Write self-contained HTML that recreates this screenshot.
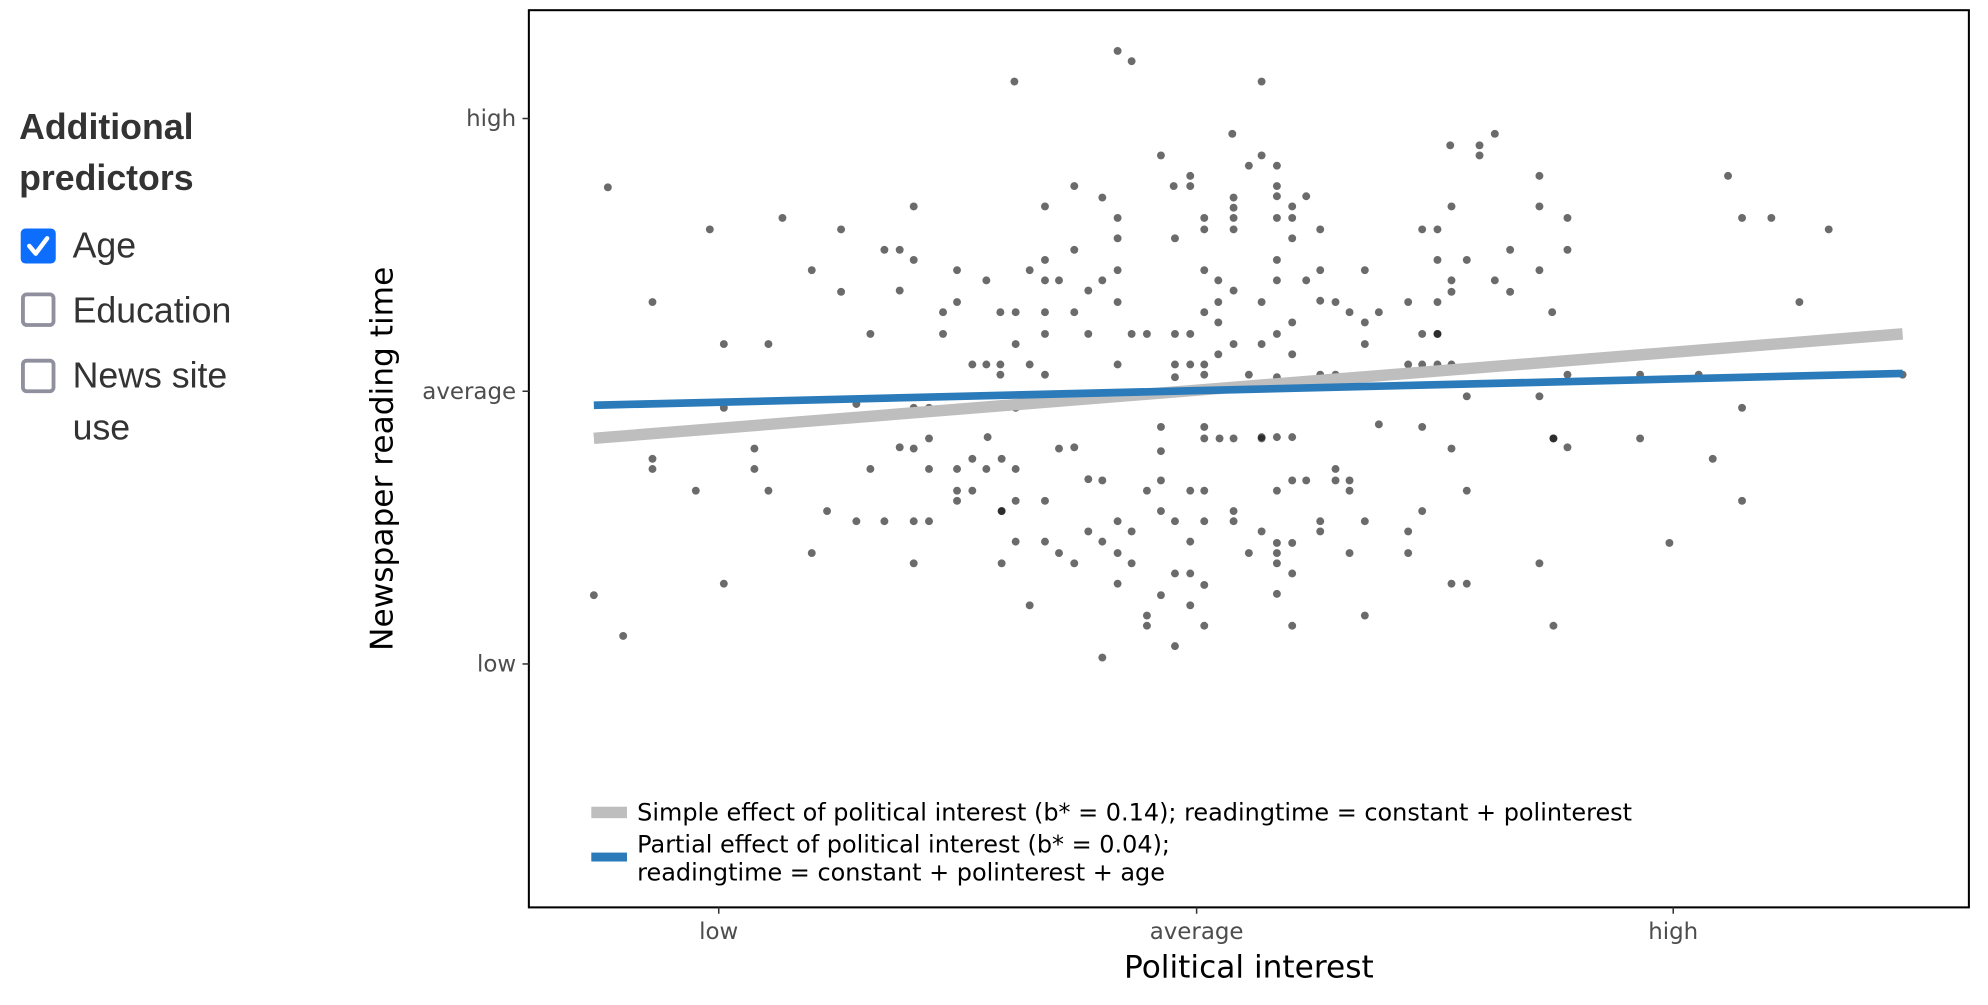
<!DOCTYPE html>
<html><head><meta charset="utf-8">
<style>
html,body{margin:0;padding:0;background:#fff;}
svg{display:block;}
</style></head>
<body>
<svg id="chart" width="1988" height="1005" viewBox="0 0 1560 788.6" preserveAspectRatio="none" xmlns="http://www.w3.org/2000/svg">
  <g font-family="Liberation Sans, Arial, sans-serif" fill="#333">
    <text x="15" y="109" font-size="28" font-weight="bold">Additional</text>
    <text x="15" y="149" font-size="28" font-weight="bold">predictors</text>
    <g>
      <rect x="17" y="180" width="26" height="26" rx="3" fill="#0d6efd" stroke="#0d6efd" stroke-width="1.5"/>
      <path d="M23 193 l5 6 l9 -12" fill="none" stroke="#fff" stroke-width="3.5" stroke-linecap="round" stroke-linejoin="round"/>
      <text x="57" y="202" font-size="28">Age</text>
    </g>
    <g>
      <rect x="18" y="231" width="24" height="24" rx="3" fill="#fff" stroke="#8f8f9d" stroke-width="3"/>
      <text x="57" y="253" font-size="28">Education</text>
    </g>
    <g>
      <rect x="18" y="283" width="24" height="24" rx="3" fill="#fff" stroke="#8f8f9d" stroke-width="3"/>
      <text x="57" y="304" font-size="28">News site</text>
      <text x="57" y="345" font-size="28">use</text>
    </g>
  </g>
  <g id="plot" font-family="DejaVu Sans, Liberation Sans, sans-serif"></g>
</svg>
<script>
// Data: x = political interest score (ticks low=564, average=939, high=1313)
// y = reading time score (ticks low=279, average=493, high=707)
const xTickLabels = ["low", "average", "high"];
const xTickValues = [564, 939, 1313];
const yTickLabels = ["low", "average", "high"];
const yTickValues = [279, 493, 707];
const simpleEffect = { intercept: 493.8, slope: 0.0798 };   // b* = 0.14
const partialEffect = { intercept: 493.5, slope: 0.0243 };  // b* = 0.04
const lineRange = [466, 1493];
const pointsX = [877,888,796,990,967,1173,1138,1161,1161,911,980,990,1002,934,1208,1356,477,843,921,934,1002,865,968,1002,1025,1014,717,820,1139,1208,968,1230,1367,1390,614,877,945,968,1002,1014,557,660,945,968,1036,1116,1128,1435,706,694,877,843,922,1014,1185,1230,717,820,1128,1151,1002,637,751,877,808,945,1071,1208,1036,774,820,831,865,956,1002,1025,1139,1173,660,706,854,968,1139,1185,740,751,785,797,820,843,877,945,956,990,1036,1048,1105,1128,1412,512,568,683,797,820,854,888,900,922,934,956,968,1002,1014,1059,1071,1082,1116,1128,1128,1218,603,740,763,774,785,808,877,922,934,945,956,990,1014,1071,1105,1116,1128,1139,1185,1230,1287,785,820,922,945,1002,1036,1048,1094,980,1333,1493,968,1082,1151,1208,1367,568,717,729,797,672,683,854,911,945,990,1116,1002,1014,775,843,706,729,831,1139,1219,1287,957,990,945,968,1219,1230,1344,592,592,683,763,751,774,786,797,512,512,717,729,854,865,900,911,911,1048,1048,1059,945,1002,1014,1025,1059,546,603,751,763,751,797,820,934,968,1116,1151,1367,649,786,786,854,877,888,911,922,945,968,990,1002,1014,1036,1071,1105,1036,672,694,729,717,797,820,865,877,934,980,1002,1059,1105,1208,1310,637,717,786,831,843,934,945,1002,1002,1014,1139,1151,888,877,922,934,1071,466,568,808,900,911,945,1219,489,1014,922,900,865];
const pointsY = [760,752,736,736,695,695,686,686,678,678,670,678,670,662,662,662,653,654,654,654,654,645,645,646,646,638,638,638,638,638,637,629,629,629,629,629,629,629,629,629,620,620,620,620,620,620,620,620,604,604,613,604,613,613,604,604,596,596,596,596,596,588,588,588,588,588,588,588,588,580,580,580,580,580,580,580,580,580,571,572,572,572,571,571,555,563,555,555,555,555,563,555,563,563,564,563,563,563,563,563,530,538,530,538,538,538,538,538,538,547,530,538,547,555,547,555,538,538,538,555,530,538,514,514,514,514,514,514,514,514,522,530,522,530,514,514,514,514,514,506,506,506,506,504,506,504,506,506,506,506,506,506,497,467,489,489,480,480,480,480,480,483,473,489,465,465,457,465,457,457,457,449,449,456,448,448,456,456,456,456,456,456,456,449,440,448,432,432,440,432,432,440,432,440,432,448,432,424,423,415,423,446,432,423,423,415,415,423,423,415,415,415,415,415,407,407,407,415,399,399,415,407,399,399,399,383,391,383,399,391,391,391,383,374,374,383,391,383,391,391,391,391,391,375,375,375,366,375,366,366,366,366,358,374,366,358,358,366,358,350,341,358,334,350,342,342,358,342,350,325,317,333,342,325,317,333,309,309,301,309,293,309,284,284,268,251,210];

const svgNS = "http://www.w3.org/2000/svg";
const plot = document.getElementById("plot");
const L = 415, R = 1545, T = 8, B = 712;
function xScale(v){ return 939 + (v - 939); }
function yScale(v){ return 307 - (v - 493); }
function mk(tag, attrs){ const e = document.createElementNS(svgNS, tag); for (const k in attrs) e.setAttribute(k, attrs[k]); plot.appendChild(e); return e; }

const frame = mk("rect", {x:L, y:T, width:R-L, height:B-T, fill:"#fff", stroke:"#000", "stroke-width":1.6});



for (let i = 0; i < pointsX.length; i++) {
  const c = mk("circle", {cx:xScale(pointsX[i]), cy:yScale(pointsY[i]), r:3.1, fill:"rgba(0,0,0,0.58)"});
  
  
}

function effectLine(eff, color, w, name){
  const x1 = lineRange[0], x2 = lineRange[1];
  const y1 = eff.intercept + eff.slope * (x1 - 939);
  const y2 = eff.intercept + eff.slope * (x2 - 939);
  const l = mk("line", {x1:xScale(x1), y1:yScale(y1), x2:xScale(x2), y2:yScale(y2), stroke:color, "stroke-width":w});
  
  
}
effectLine(simpleEffect, "#bebebe", 9, "simple-effect-line");
effectLine(partialEffect, "#2b7bba", 6, "partial-effect-line");

xTickValues.forEach((v, i) => {
  const t = mk("line", {x1:xScale(v), x2:xScale(v), y1:B, y2:B+5, stroke:"#333", "stroke-width":1.2});
  
  
  const lb = mk("text", {x:xScale(v), y:B+25, "text-anchor":"middle", "font-size":18, fill:"#4d4d4d"});
  lb.textContent = xTickLabels[i];
  
  
});
yTickValues.forEach((v, i) => {
  const t = mk("line", {x1:L-5, x2:L, y1:yScale(v), y2:yScale(v), stroke:"#333", "stroke-width":1.2});
  
  
  const lb = mk("text", {x:L-10, y:yScale(v)+6, "text-anchor":"end", "font-size":18, fill:"#4d4d4d"});
  lb.textContent = yTickLabels[i];
  
  
});

const xt = mk("text", {x:980, y:767, "text-anchor":"middle", "font-size":24.5, fill:"#000"});
xt.textContent = "Political interest";


const yt = mk("text", {x:0, y:0, transform:"translate(308,360) rotate(-90)", "text-anchor":"middle", "font-size":24.5, fill:"#000"});
yt.textContent = "Newspaper reading time";



const s1 = mk("rect", {x:464, y:633, width:28, height:9, fill:"#bebebe"});


const t1 = mk("text", {x:500, y:644, "font-size":18.8, fill:"#000"});
t1.textContent = "Simple effect of political interest (b* = 0.14); readingtime = constant + polinterest";


const s2 = mk("rect", {x:464, y:669, width:28, height:7, fill:"#2b7bba"});


const t2 = mk("text", {x:500, y:669, "font-size":18.8, fill:"#000"});
t2.textContent = "Partial effect of political interest (b* = 0.04);";


const t3 = mk("text", {x:500, y:691, "font-size":18.8, fill:"#000"});
t3.textContent = "readingtime = constant + polinterest + age";


</script>
</body></html>
